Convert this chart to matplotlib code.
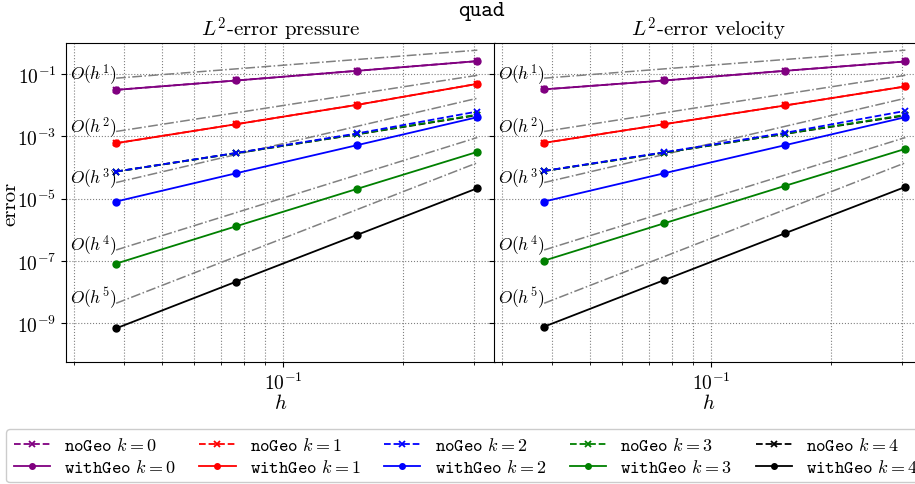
import matplotlib
matplotlib.use("Agg")
import matplotlib.pyplot as plt

plt.rcParams['font.family'] = 'serif'
plt.rcParams['font.serif'] = ['cmr10', 'DejaVu Serif']
plt.rcParams['mathtext.fontset'] = 'cm'
plt.rcParams['axes.formatter.use_mathtext'] = True

# mesh sizes
h = [0.0383, 0.0765, 0.1531, 0.3062]
orders = [0, 1, 2, 3, 4]
colors = ['purple', 'red', 'blue', 'green', 'black']

# pressure errors, withGeo (k=0..4)
p_with = [
    [0.0313, 0.0626, 0.128, 0.262],
    [6.05e-4, 2.47e-3, 1.03e-2, 4.88e-2],
    [8.07e-6, 6.56e-5, 5.21e-4, 4.14e-3],
    [8.18e-8, 1.30e-6, 2.05e-5, 3.18e-4],
    [6.8e-10, 2.16e-8, 6.8e-7, 2.16e-5],
]
# pressure errors, noGeo (k=0..4)
p_no = [
    [0.0313, 0.0626, 0.128, 0.262],
    [6.05e-4, 2.47e-3, 1.03e-2, 4.88e-2],
    [7.43e-5, 2.95e-4, 1.24e-3, 6.3e-3],
    [7.4e-5, 2.9e-4, 1.18e-3, 5.0e-3],
    [7.4e-5, 2.9e-4, 1.16e-3, 4.8e-3],
]
# velocity errors, withGeo
v_with = [
    [0.0325, 0.0626, 0.128, 0.256],
    [6.2e-4, 2.47e-3, 9.84e-3, 4.03e-2],
    [8.07e-6, 6.56e-5, 5.21e-4, 4.14e-3],
    [1.02e-7, 1.62e-6, 2.57e-5, 3.98e-4],
    [7.7e-10, 2.43e-8, 7.7e-7, 2.38e-5],
]
# velocity errors, noGeo
v_no = [
    [0.0325, 0.0626, 0.128, 0.256],
    [6.2e-4, 2.47e-3, 9.84e-3, 4.03e-2],
    [7.78e-5, 3.1e-4, 1.30e-3, 6.6e-3],
    [7.7e-5, 3.0e-4, 1.22e-3, 4.92e-3],
    [7.7e-5, 3.0e-4, 1.20e-3, 4.7e-3],
]

# reference slopes O(h^p): values at smallest and largest h
ref_p = [1, 2, 3, 4, 5]
ref_left = [0.0743, 1.44e-3, 3.29e-5, 2.24e-7, 4.34e-9]
ref_right = [0.59, 9.2e-2, 1.68e-2, 9.2e-4, 1.42e-4]

fig = plt.figure(figsize=(9.15, 4.85), dpi=100)
ax1 = fig.add_axes([0.0721, 0.2515, 0.4689, 0.6577])
ax2 = fig.add_axes([0.5399, 0.2515, 0.4689, 0.6577], sharey=ax1)

handles = []
for ax, with_data, no_data, title in [(ax1, p_with, p_no, r'$L^2$-error pressure'),
                                       (ax2, v_with, v_no, r'$L^2$-error velocity')]:
    for i in range(len(ref_p)):
        ax.plot([h[0], h[-1]], [ref_left[i], ref_right[i]], '-.', color='gray', lw=1.1)
        ax.text(h[0], ref_left[i], r'$O(h^%d)$' % ref_p[i], ha='right', va='baseline', fontsize=12.5)
    hh = []
    for k in orders:
        l1, = ax.plot(h, no_data[k], '--x', color=colors[k], lw=1.3, ms=5, mew=1.3,
                      zorder=3 - 0.1 * k, label=r'$\mathtt{noGeo}\ k=%d$' % k)
        l2, = ax.plot(h, with_data[k], '-o', color=colors[k], lw=1.3, ms=5, zorder=3.5,
                      label=r'$\mathtt{withGeo}\ k=%d$' % k)
        hh += [l1, l2]
    if ax is ax1:
        handles = hh
    ax.set_xscale('log')
    ax.set_yscale('log')
    ax.set_xlim(0.0287, 0.339)
    ax.set_ylim(10**-10.25, 1.0)
    ax.set_yticks([1e-9, 1e-7, 1e-5, 1e-3, 1e-1])
    ax.yaxis.set_minor_locator(matplotlib.ticker.NullLocator())
    ax.grid(True, which='major', ls=':', color='gray', lw=0.8)
    ax.grid(True, which='minor', axis='x', ls=':', color='gray', lw=0.8)
    ax.tick_params(labelsize=14)
    ax.set_xlabel(r'$h$', fontsize=15, labelpad=0)
    ax.set_title(title, fontsize=15, pad=4)

ax1.set_ylabel('error', fontsize=15)
ax1.yaxis.set_label_coords(-0.108, 0.5)
plt.setp(ax2.get_yticklabels(), visible=False)

fig.suptitle('quad', fontfamily='cmtt10', fontsize=16, x=0.526, y=0.995)

fig.legend(handles=handles, ncol=5, loc='upper left', bbox_to_anchor=(0.007, 0.113),
           fontsize=13, columnspacing=1.3, handlelength=2.0, framealpha=1, edgecolor='#cccccc',
           markerscale=0.8, labelspacing=0.25, borderaxespad=0)

fig.savefig('out.png', dpi=100)
